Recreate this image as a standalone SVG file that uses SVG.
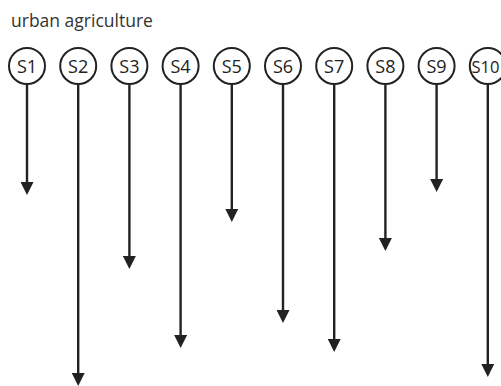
<svg xmlns="http://www.w3.org/2000/svg" width="501" height="386" viewBox="0 0 501 386">
<style>
.title{font-family:"Open Sans","Liberation Sans",sans-serif;font-size:17.5px;fill:#333}
.node circle{fill:#fff;stroke:#222;stroke-width:2}
.node text{font-family:"Open Sans","Liberation Sans",sans-serif;font-size:18px;fill:#222;text-anchor:middle}
.conn line{stroke:#222;stroke-width:2.4;marker-end:url(#ah)}
</style>
<defs>
<marker id="ah" markerUnits="userSpaceOnUse" markerWidth="13" markerHeight="13" refX="7" refY="6.5" orient="auto" viewBox="0 0 13 13">
<path d="M0,0 L13,6.5 L0,13 z" fill="#222"/>
</marker>
</defs>
<rect width="501" height="386" fill="#fff"/>
<text class="title" x="11" y="27">urban agriculture</text>
<g class="conn">
<line x1="27" y1="84" x2="27" y2="189"/>
<line x1="78.2" y1="84" x2="78.2" y2="380"/>
<line x1="129.4" y1="84" x2="129.4" y2="263"/>
<line x1="180.6" y1="84" x2="180.6" y2="342"/>
<line x1="231.8" y1="84" x2="231.8" y2="216"/>
<line x1="283" y1="84" x2="283" y2="317"/>
<line x1="334.2" y1="84" x2="334.2" y2="346"/>
<line x1="385.4" y1="84" x2="385.4" y2="245"/>
<line x1="436.6" y1="84" x2="436.6" y2="186"/>
<line x1="487.8" y1="84" x2="487.8" y2="371"/>
</g>
<g id="S1" class="node"><circle cx="27" cy="66" r="18"/><text x="27" y="73">S1</text></g>
<g id="S2" class="node"><circle cx="78.2" cy="66" r="18"/><text x="78.2" y="73">S2</text></g>
<g id="S3" class="node"><circle cx="129.4" cy="66" r="18"/><text x="129.4" y="73">S3</text></g>
<g id="S4" class="node"><circle cx="180.6" cy="66" r="18"/><text x="180.6" y="73">S4</text></g>
<g id="S5" class="node"><circle cx="231.8" cy="66" r="18"/><text x="231.8" y="73">S5</text></g>
<g id="S6" class="node"><circle cx="283" cy="66" r="18"/><text x="283" y="73">S6</text></g>
<g id="S7" class="node"><circle cx="334.2" cy="66" r="18"/><text x="334.2" y="73">S7</text></g>
<g id="S8" class="node"><circle cx="385.4" cy="66" r="18"/><text x="385.4" y="73">S8</text></g>
<g id="S9" class="node"><circle cx="436.6" cy="66" r="18"/><text x="436.6" y="73">S9</text></g>
<g id="S10" class="node"><circle cx="487.8" cy="66" r="18"/><text x="485.5" y="72.5" style="font-size:16.5px">S10</text></g>
</svg>
